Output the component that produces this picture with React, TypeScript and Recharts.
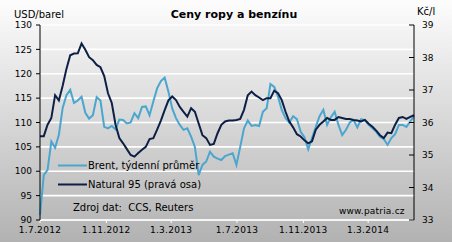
import React from "react";
import { LineChart, Line, XAxis, YAxis, CartesianGrid } from "recharts";

// Weekly Brent average, USD/barrel (week 0 = 1.7.2012)
const brent = [
  91, 99.2, 100.3, 106.1, 104.8, 107.5, 113, 115.6, 116.7, 114,
  114.5, 115.3, 112, 110.8, 111.5, 115.2, 114.5, 109.1, 108.8, 109.3,
  108.6, 110.6, 110.5, 109.8, 110, 111.9, 110.9, 113.2, 113.3, 111.5,
  114.3, 117, 118.5, 119.2, 116.3, 112.9, 110.9, 109.5, 108.5, 108.8,
  107.1, 105, 99.2, 101.3, 102, 104, 103, 102.6, 102.3, 103.1,
  103.4, 103.7, 101.3, 105, 108.8, 110.4, 109.3, 109.5, 109.3, 112.2,
  112.9, 117.9, 117.3, 115.3, 112.6, 110.9, 110, 111.3, 110.7, 108.1,
  107, 104.5, 106.8, 109.1, 111.3, 112.6, 109.5, 111.1, 112.2, 109.5,
  107.4, 108.5, 110, 110.5, 109, 110.7, 110.5, 109.5, 108.8, 108.1,
  107.1, 106.6, 105.4, 106.8, 107.6, 109.5, 109.5, 109.1, 110.2, 111.3,
];

// Natural 95, CZK/l (right axis)
const natural95 = [
  35.58, 35.58, 35.93, 36.14, 36.84, 36.68, 37.13, 37.65, 38.07, 38.12,
  38.13, 38.43, 38.24, 38.01, 37.92, 37.77, 37.7, 37.43, 36.9, 36.6,
  35.93, 35.52, 35.36, 35.18, 35.0, 34.95, 35.06, 35.16, 35.25, 35.49,
  35.52, 35.78, 36.06, 36.38, 36.68, 36.8, 36.69, 36.48, 36.33, 36.18,
  36.44, 36.33, 35.97, 35.61, 35.52, 35.31, 35.34, 35.67, 35.93, 36.03,
  36.06, 36.06, 36.08, 36.11, 36.39, 36.84, 36.95, 36.84, 36.77, 36.69,
  36.75, 36.75, 36.98, 36.9, 36.69, 36.33, 36.03, 35.85, 35.64, 35.57,
  35.45, 35.36, 35.42, 35.78, 35.93, 36.03, 36.14, 36.08, 36.08, 36.17,
  36.14, 36.11, 36.11, 36.08, 36.06, 36.03, 36.08, 35.96, 35.87, 35.75,
  35.61, 35.52, 35.69, 35.67, 35.93, 36.14, 36.17, 36.11, 36.17, 36.23,
];

// X tick positions: days since 1.7.2012
const tickDays = [0, 123, 243, 365, 488, 608];
const tickLabels = ["1.7.2012", "1.11.2012", "1.3.2013", "1.7.2013", "1.11.2013", "1.3.2014"];
const usdTicks = [90, 95, 100, 105, 110, 115, 120, 125, 130];
const czkTicks = [33, 34, 35, 36, 37, 38, 39];

const data = brent.map((b, i) => ({ d: i * 7, brent: b, natural: natural95[i] }));

const FONT = "'DejaVu Sans', Verdana, sans-serif";
const BRENT_COLOR = "#4aa6cf";
const NAT_COLOR = "#0d1f45";

const RightTick = (props: any) => {
  const { x, y, payload } = props;
  return (
    <g>
      <line x1={x - 5} x2={x} y1={y} y2={y} stroke="#000" strokeWidth={1} />
      <text x={x + 8} y={y} dy="0.355em" fontSize={9} fill="#000" fontFamily={FONT}>
        {payload.value}
      </text>
    </g>
  );
};

export default function App() {
  return (
    <div
      style={{
        position: "absolute",
        left: 0,
        top: 0,
        width: 452,
        height: 242,
        background: "linear-gradient(#fdfdfd, #b2b2b2)",
        fontFamily: FONT,
      }}
    >
      <LineChart width={452} height={242} data={data} margin={{ top: 25, right: 0, left: 0, bottom: 0 }}>
        <CartesianGrid yAxisId="usd" vertical={false} stroke="#ffffff" strokeWidth={1.6} />
        <XAxis
          dataKey="d"
          type="number"
          domain={[0, 693]}
          ticks={tickDays}
          tickFormatter={(v: number) => tickLabels[tickDays.indexOf(v)]}
          height={22}
          axisLine={{ stroke: "#ffffff" }}
          tickLine={{ stroke: "#ffffff" }}
          tickSize={3}
          tickMargin={4}
          tick={{ fill: "#000", fontSize: 9, fontFamily: FONT, letterSpacing: 0.3 }}
          interval={0}
        />
        <YAxis
          yAxisId="usd"
          width={40}
          domain={[90, 130]}
          ticks={usdTicks}
          axisLine={{ stroke: "#000" }}
          tickLine={{ stroke: "#000" }}
          tickSize={4}
          tickMargin={4}
          tick={{ fill: "#000", fontSize: 9, fontFamily: FONT }}
          interval={0}
        />
        <YAxis
          yAxisId="czk"
          orientation="right"
          width={38}
          domain={[33, 39]}
          ticks={czkTicks}
          axisLine={{ stroke: "#000" }}
          tickLine={false}
          tickSize={0}
          tickMargin={0}
          tick={<RightTick />}
          interval={0}
        />
        <Line
          yAxisId="usd"
          dataKey="brent"
          stroke={BRENT_COLOR}
          strokeWidth={2}
          dot={false}
          isAnimationActive={false}
        />
        <Line
          yAxisId="czk"
          dataKey="natural"
          stroke={NAT_COLOR}
          strokeWidth={2}
          dot={false}
          isAnimationActive={false}
        />
      </LineChart>
      <svg
        width={452}
        height={242}
        style={{ position: "absolute", left: 0, top: 0, pointerEvents: "none" }}
        fontFamily={FONT}
      >
        <text x={14} y={17.5} fontSize={10} fill="#000">USD/barel</text>
        <text x={234} y={17.5} fontSize={11} fontWeight="bold" textAnchor="middle" fill="#000">
          Ceny ropy a benzínu
        </text>
        <text x={417} y={15} fontSize={10} fill="#000">Kč/l</text>
        <line x1={58} x2={87} y1={165.5} y2={165.5} stroke={BRENT_COLOR} strokeWidth={2} />
        <text x={88} y={169} fontSize={10} fill="#000">Brent, týdenní průměr</text>
        <line x1={58} x2={87} y1={184.5} y2={184.5} stroke={NAT_COLOR} strokeWidth={2} />
        <text x={88} y={188} fontSize={10} fill="#000">Natural 95 (pravá osa)</text>
        <text x={73} y={210.5} fontSize={10} fill="#000" style={{ whiteSpace: "pre" }}>
          Zdroj dat:  CCS, Reuters
        </text>
        <text x={339} y={213.5} fontSize={9} fill="#000" letterSpacing={0.2}>www.patria.cz</text>
      </svg>
    </div>
  );
}
